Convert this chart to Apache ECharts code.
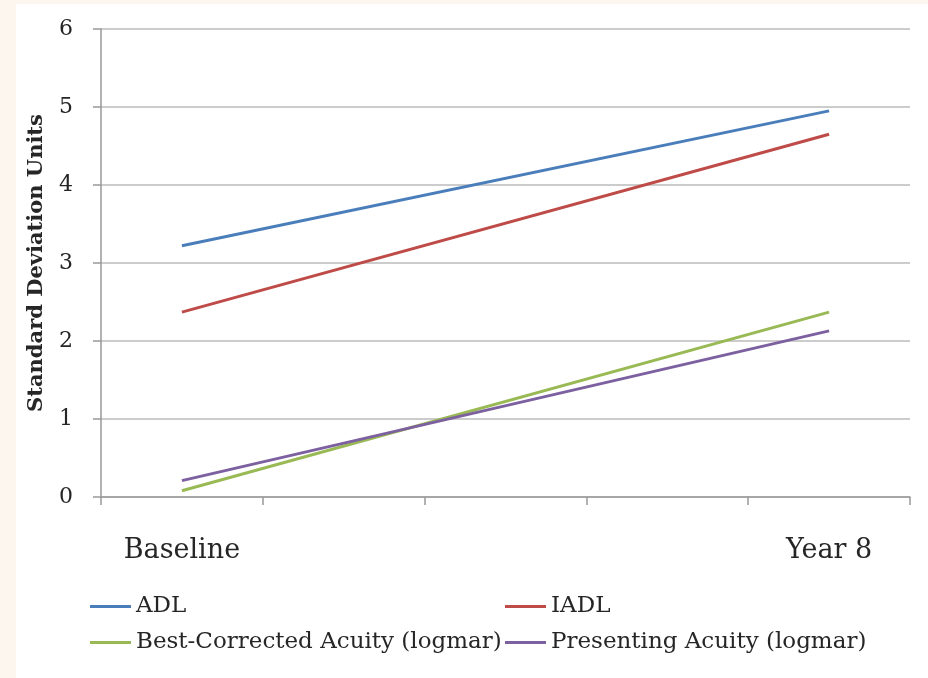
<!DOCTYPE html>
<html>
<head>
<meta charset="utf-8">
<script src="https://cdn.jsdelivr.net/npm/echarts@6/dist/echarts.min.js"></script>
<style>
html,body{margin:0;padding:0;background:#fdf6ee;width:928px;height:678px;overflow:hidden;}
#c{position:absolute;left:16px;top:4px;width:912px;height:674px;background:#ffffff;}
</style>
</head>
<body>
<div id="c"></div>
<script>
const categories = ['Baseline', '', '', '', 'Year 8'];
const adl = [3.22, null, null, null, 4.95];
const iadl = [2.37, null, null, null, 4.65];
const bestCorrected = [0.08, null, null, null, 2.37];
const presenting = [0.21, null, null, null, 2.13];
const yTicks = [0, 1, 2, 3, 4, 5, 6];

const serif = '"DejaVu Serif", "Liberation Serif", serif';
const textColor = '#262626';

function lineSeries(name, data, color) {
  return {
    name: name, type: 'line', data: data, connectNulls: true,
    showSymbol: false, symbol: 'none',
    lineStyle: { color: color, width: 3 },
    itemStyle: { color: color },
    emphasis: { disabled: true }
  };
}

const legendCommon = {
  orient: 'vertical', top: 591, itemGap: 13, padding: 0,
  icon: 'rect', itemWidth: 41, itemHeight: 3,
  textStyle: { fontFamily: serif, fontSize: 23, color: textColor }
};

const chart = echarts.init(document.getElementById('c'));
chart.setOption({
  animation: false,
  backgroundColor: '#ffffff',
  grid: { left: 85, right: 18, top: 25, bottom: 181 },
  legend: [
    Object.assign({}, legendCommon, { left: 74, data: ['ADL', 'Best-Corrected Acuity (logmar)'] }),
    Object.assign({}, legendCommon, { left: 489, data: ['IADL', 'Presenting Acuity (logmar)'] })
  ],
  xAxis: {
    type: 'category', data: categories, boundaryGap: true,
    axisLine: { lineStyle: { color: '#999', width: 1.5 } },
    axisTick: { show: true, interval: 0, length: 8, lineStyle: { color: '#999', width: 1.5 } },
    axisLabel: { interval: 0, margin: 40, fontFamily: serif, fontSize: 27, color: textColor },
    splitLine: { show: false }
  },
  yAxis: {
    type: 'value', min: yTicks[0], max: yTicks[yTicks.length - 1], interval: 1,
    name: 'Standard Deviation Units', nameLocation: 'middle', nameGap: 54, nameRotate: 90,
    nameTextStyle: { fontFamily: serif, fontSize: 21, fontWeight: 'bold', color: textColor },
    axisLine: { show: true, lineStyle: { color: '#999', width: 1.5 } },
    axisTick: { show: true, length: 8, lineStyle: { color: '#999', width: 1.5 } },
    axisLabel: { margin: 28, fontFamily: serif, fontSize: 22, color: textColor },
    splitLine: { show: true, lineStyle: { color: '#bbb', width: 1.5 } }
  },
  series: [
    lineSeries('ADL', adl, '#4a7ebb'),
    lineSeries('IADL', iadl, '#be4b48'),
    lineSeries('Best-Corrected Acuity (logmar)', bestCorrected, '#98b954'),
    lineSeries('Presenting Acuity (logmar)', presenting, '#7d60a0')
  ]
});
</script>
</body>
</html>
